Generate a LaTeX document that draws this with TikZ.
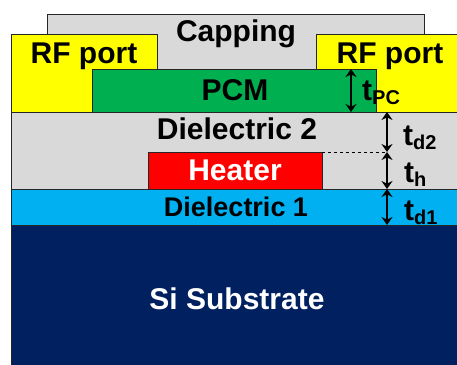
\documentclass[tikz,border=0pt]{standalone}
\usepackage{fontspec}
\setmainfont{Liberation Sans}
\usetikzlibrary{arrows.meta}
\definecolor{capgray}{RGB}{217,217,217}
\definecolor{portyellow}{RGB}{255,255,0}
\definecolor{pcmgreen}{RGB}{0,176,80}
\definecolor{heatred}{RGB}{255,0,0}
\definecolor{diblue}{RGB}{0,176,240}
\definecolor{sinavy}{RGB}{0,32,96}
\newcommand{\thk}[1]{t\raisebox{-4pt}{\fontsize{20}{20}\selectfont #1}}

\begin{document}
\begin{tikzpicture}[x=1pt,y=-1pt,
  layer/.style={draw=black!85,line width=0.8pt},
  lbl/.style={font=\fontsize{30}{30}\selectfont\bfseries,anchor=base,inner sep=0pt},
  tlbl/.style={font=\fontsize{30}{30}\selectfont\bfseries,anchor=base west,inner sep=0pt},
  dim/.style={{Stealth[length=8pt,width=11pt]}-{Stealth[length=8pt,width=11pt]},line width=2pt}]
  \useasboundingbox (0,0) rectangle (457,364);
  % layer stack
  \draw[layer,fill=capgray] (47,14) rectangle (424,112);
  \draw[layer,fill=portyellow] (11,34) rectangle (157,112);
  \draw[layer,fill=portyellow] (316,34) rectangle (462,112);
  \draw[layer,fill=pcmgreen] (92,69) rectangle (376,112);
  \draw[layer,fill=capgray] (11,112) rectangle (462,189);
  \draw[layer,fill=heatred] (148,152) rectangle (322,189);
  \draw[layer,fill=diblue] (11,189) rectangle (462,225);
  \draw[layer,fill=sinavy] (11,225) rectangle (462,368);
  % labels
  \node[lbl] (cap) at (236,41) {Capping};
  \node[lbl] (rfl) at (84,63) {RF port};
  \node[lbl] (rfr) at (390,63) {RF port};
  \node[lbl] (pcm) at (235,100) {PCM};
  \node[lbl] (d2) at (237,139) {Dielectric 2};
  \node[lbl,white] (heat) at (235,180) {Heater};
  \node[lbl,font=\fontsize{27}{27}\selectfont\bfseries] (d1) at (236,216) {Dielectric 1};
  \node[lbl,white] (sub) at (237,309) {Si Substrate};
  % thickness marks
  \coordinate (pcT) at (351,69);
  \coordinate (pcB) at (351,112);
  \coordinate (d2T) at (387,112);
  \coordinate (d2B) at (387,152);
  \coordinate (hB) at (387,189);
  \coordinate (d1B) at (387,225);
  \coordinate (heatTR) at (322,152);
  \draw[dim] (pcT) -- (pcB);
  \draw[dim] (d2T) -- (d2B);
  \draw[dim] (d2B) -- (hB);
  \draw[dim] (hB) -- (d1B);
  \draw[dashed,line width=0.7pt] (heatTR) -- (d2B);
  \node[tlbl] (tpc) at (362,100) {\thk{PC}};
  \node[tlbl] (td2) at (403,145) {\thk{d2}};
  \node[tlbl] (th) at (404,182) {\thk{h}};
  \node[tlbl] (td1) at (404,220) {\thk{d1}};
\end{tikzpicture}
\end{document}
